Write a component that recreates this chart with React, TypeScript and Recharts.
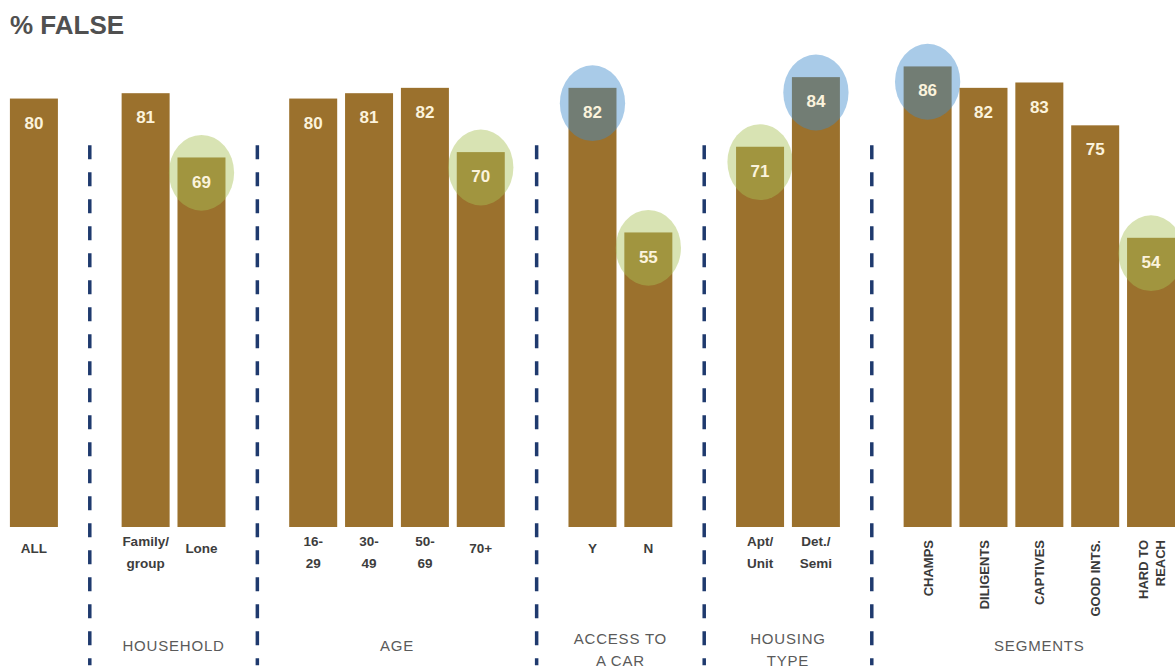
import { BarChart, Bar, XAxis, YAxis, LabelList, ReferenceLine } from "recharts";

const labels = [
  "ALL",
  "Family/|group",
  "Lone",
  "16-|29",
  "30-|49",
  "50-|69",
  "70+",
  "Y",
  "N",
  "Apt/|Unit",
  "Det./|Semi",
  "CHAMPS",
  "DILIGENTS",
  "CAPTIVES",
  "GOOD INTS.",
  "HARD TO|REACH",
];
const values = [80, 81, 69, 80, 81, 82, 70, 82, 55, 71, 84, 86, 82, 83, 75, 54];
const groups = [
  "",
  "HOUSEHOLD",
  "HOUSEHOLD",
  "AGE",
  "AGE",
  "AGE",
  "AGE",
  "ACCESS TO|A CAR",
  "ACCESS TO|A CAR",
  "HOUSING|TYPE",
  "HOUSING|TYPE",
  "SEGMENTS",
  "SEGMENTS",
  "SEGMENTS",
  "SEGMENTS",
  "SEGMENTS",
];
const highlights = [
  null, null, "green", null, null, null, "green", "blue", "green", "green", "blue", "blue", null, null, null, "green",
];
const rotatedGroups = ["SEGMENTS"];

const BAR = "#9b712d";
const DIVIDER = "#1f3a6e";
const CIRCLES: Record<string, string> = { green: "#a8c256", blue: "#408ccc" };

type Row = {
  key: string;
  value: number | null;
  label: string;
  group: string;
  highlight: string | null;
  spacer: boolean;
  groupStart: boolean;
  groupSize: number;
};

const rows: Row[] = [];
const gaps: string[] = [];
labels.forEach((label, i) => {
  const prev = i > 0 ? groups[i - 1] : null;
  if (prev !== null && prev !== groups[i]) {
    const key = `gap${gaps.length}`;
    gaps.push(key);
    rows.push({ key, value: null, label: "", group: "", highlight: null, spacer: true, groupStart: false, groupSize: 0 });
  }
  rows.push({
    key: `c${i}`,
    value: values[i],
    label,
    group: groups[i],
    highlight: highlights[i],
    spacer: false,
    groupStart: prev !== groups[i],
    groupSize: groups.filter((g) => g === groups[i]).length,
  });
});

const FONT = "'Liberation Sans', Arial, sans-serif";

function BarShape(props: any) {
  const { x, y, width, height, payload } = props;
  if (payload.value == null) return null;
  const color = payload.highlight ? CIRCLES[payload.highlight] : null;
  return (
    <g>
      <rect x={x} y={y} width={width} height={height} fill={BAR} />
      {color && (
        <ellipse
          cx={x + width / 2}
          cy={y + width * 0.32}
          rx={width * 0.68}
          ry={width * 0.79}
          fill={color}
          fillOpacity={0.45}
        />
      )}
    </g>
  );
}

function Tick(props: any) {
  const { x, y, payload } = props;
  const row = rows.find((r) => r.key === payload.value);
  if (!row || row.spacer) return null;
  const half = payload.offset ?? 28;
  const lines = row.label.split("|");
  const rotated = rotatedGroups.includes(row.group);
  let catLabel;
  if (rotated) {
    const lineGap = 17;
    const startX = x - ((lines.length - 1) * lineGap) / 2 + 5;
    catLabel = lines.map((l, i) => (
      <text
        key={i}
        x={startX + i * lineGap}
        y={y + 13}
        transform={`rotate(-90 ${startX + i * lineGap} ${y + 13})`}
        textAnchor="end"
        fontSize={13}
        fontWeight="bold"
        fill="#3a3a3a"
        fontFamily={FONT}
      >
        {l}
      </text>
    ));
  } else {
    const y0 = lines.length === 1 ? y + 26 : y + 19;
    catLabel = lines.map((l, i) => (
      <text
        key={i}
        x={x}
        y={y0 + i * 22}
        textAnchor="middle"
        fontSize={13.5}
        fontWeight="bold"
        fill="#3d3d3d"
        fontFamily={FONT}
      >
        {l}
      </text>
    ));
  }
  let groupLabel = null;
  if (row.groupStart && row.group) {
    const gx = x + (row.groupSize - 1) * half;
    const glines = row.group.split("|");
    const gy = glines.length === 1 ? y + 124 : y + 117;
    groupLabel = glines.map((l, i) => (
      <text
        key={`g${i}`}
        x={gx}
        y={gy + i * 22}
        textAnchor="middle"
        fontSize={15}
        letterSpacing={0.8}
        fill="#5a5a5a"
        fontFamily={FONT}
      >
        {l}
      </text>
    ));
  }
  return (
    <g>
      {catLabel}
      {groupLabel}
    </g>
  );
}

export default function App() {
  return (
    <div
      style={{
        position: "absolute",
        left: 0,
        top: 0,
        width: 1175,
        height: 672,
        overflow: "hidden",
        background: "#fff",
      }}
    >
      <div
        style={{
          position: "absolute",
          left: 10,
          top: 10,
          fontFamily: FONT,
          fontWeight: "bold",
          fontSize: 26,
          color: "#505050",
        }}
      >
        % FALSE
      </div>
      <BarChart
        width={1185}
        height={672}
        data={rows}
        margin={{ top: 45, right: 6, bottom: 0, left: 6 }}
        barCategoryGap="7%"
      >
        <XAxis
          dataKey="key"
          type="category"
          height={145}
          interval={0}
          tickLine={false}
          axisLine={false}
          tickSize={0}
          tickMargin={0}
          tick={<Tick />}
        />
        <YAxis hide domain={[0, 90]} />
        <Bar dataKey="value" shape={<BarShape />} isAnimationActive={false}>
          <LabelList
            dataKey="value"
            position="insideTop"
            offset={18}
            fill="#fbf3dc"
            fontSize={17}
            fontWeight="bold"
            fontFamily={FONT}
          />
        </Bar>
        {gaps.map((g) => (
          <ReferenceLine
            key={g}
            segment={[
              { x: g, y: 71.3 },
              { x: g, y: -25.8 },
            ]}
            ifOverflow="visible"
            stroke={DIVIDER}
            strokeWidth={3.5}
            strokeDasharray="14 13"
          />
        ))}
      </BarChart>
    </div>
  );
}
